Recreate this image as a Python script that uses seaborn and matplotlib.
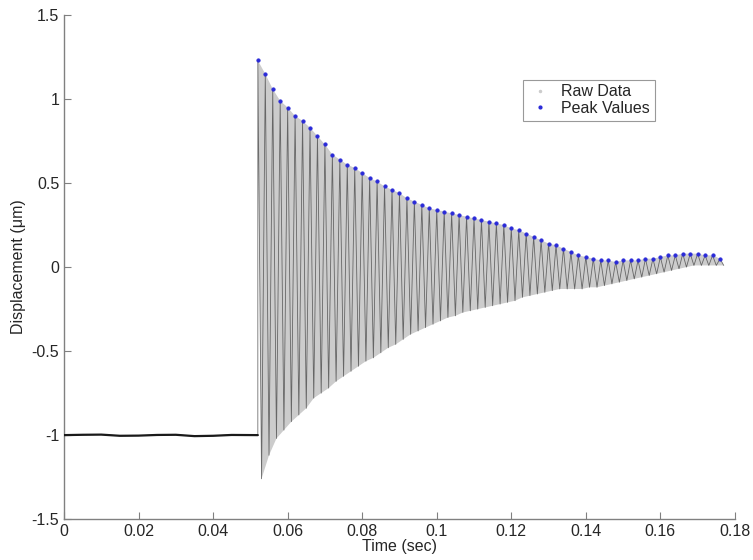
import matplotlib
matplotlib.use("Agg")
import matplotlib.pyplot as plt
import matplotlib.ticker as mticker
import numpy as np
import pandas as pd
import seaborn as sns

# flat part before the impact
base_time = [0.0, 0.005, 0.01, 0.015, 0.02, 0.025, 0.03, 0.035, 0.04, 0.045, 0.052]
base_disp = [-1.0, -0.998, -0.997, -1.004, -1.003, -0.999, -0.998, -1.006, -1.004, -0.999, -1.0]

# upper extremes of each cycle (also the blue "peak values")
peak_time = [0.052, 0.054, 0.056, 0.058, 0.060, 0.062, 0.064, 0.066, 0.068, 0.070,
             0.072, 0.074, 0.076, 0.078, 0.080, 0.082, 0.084, 0.086, 0.088, 0.090,
             0.092, 0.094, 0.096, 0.098, 0.100, 0.102, 0.104, 0.106, 0.108, 0.110,
             0.112, 0.114, 0.116, 0.118, 0.120, 0.122, 0.124, 0.126, 0.128, 0.130,
             0.132, 0.134, 0.136, 0.138, 0.140, 0.142, 0.144, 0.146, 0.148, 0.150,
             0.152, 0.154, 0.156, 0.158, 0.160, 0.162, 0.164, 0.166, 0.168, 0.170,
             0.172, 0.174, 0.176]
peak_disp = [1.23, 1.15, 1.06, 0.99, 0.95, 0.90, 0.87, 0.83, 0.78, 0.73,
             0.67, 0.64, 0.61, 0.59, 0.56, 0.53, 0.51, 0.48, 0.46, 0.44,
             0.41, 0.39, 0.37, 0.35, 0.34, 0.33, 0.32, 0.31, 0.30, 0.29,
             0.28, 0.27, 0.26, 0.25, 0.23, 0.22, 0.20, 0.18, 0.16, 0.14,
             0.13, 0.11, 0.09, 0.07, 0.06, 0.05, 0.04, 0.04, 0.03, 0.04,
             0.04, 0.04, 0.05, 0.05, 0.06, 0.07, 0.07, 0.08, 0.08, 0.08,
             0.07, 0.07, 0.05]

# lower extremes of each cycle
trough_time = [0.053, 0.055, 0.057, 0.059, 0.061, 0.063, 0.065, 0.067, 0.069, 0.071,
               0.073, 0.075, 0.077, 0.079, 0.081, 0.083, 0.085, 0.087, 0.089, 0.091,
               0.093, 0.095, 0.097, 0.099, 0.101, 0.103, 0.105, 0.107, 0.109, 0.111,
               0.113, 0.115, 0.117, 0.119, 0.121, 0.123, 0.125, 0.127, 0.129, 0.131,
               0.133, 0.135, 0.137, 0.139, 0.141, 0.143, 0.145, 0.147, 0.149, 0.151,
               0.153, 0.155, 0.157, 0.159, 0.161, 0.163, 0.165, 0.167, 0.169, 0.171,
               0.173, 0.175, 0.177]
trough_disp = [-1.26, -1.12, -1.02, -0.97, -0.92, -0.88, -0.84, -0.78, -0.75, -0.72,
               -0.68, -0.65, -0.62, -0.59, -0.56, -0.54, -0.51, -0.48, -0.46, -0.43,
               -0.40, -0.38, -0.36, -0.34, -0.32, -0.30, -0.29, -0.27, -0.26, -0.25,
               -0.24, -0.23, -0.22, -0.21, -0.20, -0.18, -0.17, -0.16, -0.15, -0.14,
               -0.13, -0.13, -0.13, -0.13, -0.12, -0.12, -0.11, -0.10, -0.09, -0.08,
               -0.07, -0.06, -0.05, -0.04, -0.03, -0.02, -0.01, 0.00, 0.01, 0.01,
               0.01, 0.01, 0.01]

x_ticks = [0, 0.02, 0.04, 0.06, 0.08, 0.1, 0.12, 0.14, 0.16, 0.18]
y_ticks = [-1.5, -1, -0.5, 0, 0.5, 1, 1.5]

# raw signal: flat part, then alternate peak / trough
osc_t, osc_d = [], []
for pt, pd_, tt, td in zip(peak_time, peak_disp, trough_time, trough_disp):
    osc_t += [pt, tt]
    osc_d += [pd_, td]
raw = pd.DataFrame({"t": base_time + osc_t, "d": base_disp + osc_d})
base = pd.DataFrame({"t": base_time, "d": base_disp})
peaks = pd.DataFrame({"t": peak_time, "d": peak_disp})

sns.set_style("white")
plt.rcParams["font.family"] = ["Liberation Sans", "DejaVu Sans"]

fig = plt.figure(figsize=(7.53, 5.6), dpi=100)
ax = fig.add_axes([0.085, 0.073, 0.891, 0.9])

# the dense cloud of raw samples between the two envelopes
ax.fill(peak_time + trough_time[::-1], peak_disp + trough_disp[::-1],
        color="0.8", lw=0, zorder=1)
sns.lineplot(data=raw, x="t", y="d", sort=False, estimator=None, ax=ax,
             color="0.3", lw=0.6, alpha=0.8, zorder=2)
sns.lineplot(data=base, x="t", y="d", sort=False, estimator=None, ax=ax,
             color="0.1", lw=1.6, zorder=3)
sns.scatterplot(data=peaks, x="t", y="d", ax=ax, color="#2a2ad8", s=7,
                edgecolor="#2a2ad8", linewidth=0.3, zorder=5)

ax.set_xlim(0, 0.18)
ax.set_ylim(-1.5, 1.5)
ax.set_xticks(x_ticks)
ax.set_yticks(y_ticks)
ax.xaxis.set_major_formatter(mticker.FormatStrFormatter("%g"))
ax.yaxis.set_major_formatter(mticker.FormatStrFormatter("%g"))
ax.tick_params(direction="in", length=5, color="0.5", labelsize=11.5,
               labelcolor="0.15", bottom=True, left=True)
for side in ["top", "right"]:
    ax.spines[side].set_visible(False)
for side in ["left", "bottom"]:
    ax.spines[side].set_color("0.5")
    ax.spines[side].set_linewidth(1.0)

ax.set_xlabel("Time (sec)", fontsize=11.5, color="0.15", labelpad=0)
ax.set_ylabel("Displacement (\u03bcm)", fontsize=11.5, color="0.15", labelpad=4)

h_raw = plt.Line2D([], [], ls="none", marker=".", color="0.8", markersize=3)
h_peak = plt.Line2D([], [], ls="none", marker=".", color="#2a2ad8", markersize=4)
leg = ax.legend([h_raw, h_peak], ["Raw Data", "Peak Values"], loc="upper left",
                bbox_to_anchor=(0.672, 0.888), fontsize=11.5, frameon=True,
                fancybox=False, borderpad=0.3, handletextpad=0.6,
                labelspacing=0.1, handlelength=1.5)
leg.get_frame().set_edgecolor("0.5")
leg.get_frame().set_linewidth(0.8)

fig.savefig("out.png", dpi=100)
